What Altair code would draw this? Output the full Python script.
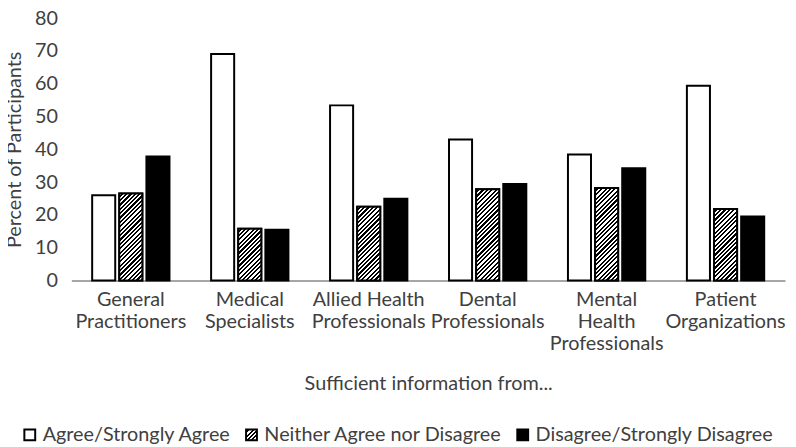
import altair as alt
import pandas as pd

categories = [
    "General\nPractitioners",
    "Medical\nSpecialists",
    "Allied Health\nProfessionals",
    "Dental\nProfessionals",
    "Mental\nHealth\nProfessionals",
    "Patient\nOrganizations",
]
series = ["Agree/Strongly Agree", "Neither Agree nor Disagree", "Disagree/Strongly Disagree"]
agree = [26.0, 69.1, 53.4, 43.0, 38.4, 59.4]
neither = [26.5, 15.8, 22.5, 27.8, 28.2, 21.8]
disagree = [37.8, 15.5, 24.9, 29.4, 34.2, 19.5]

rows = []
for i, c in enumerate(categories):
    for s, vals in zip(series, [agree, neither, disagree]):
        rows.append({"cat": c, "series": s, "value": vals[i]})
df = pd.DataFrame(rows)

FONT = "Lato"
FS = 20
TXT = "#404040"
W, H = 721, 265
YMAX = 80
# bar geometry (from scale paddings) used only to style the hatch pattern
step = W / 6.0
band = step * 0.65
barw = band / (3 - 0.15) * 0.85
px_per_unit = H / YMAX
period = 4.4


def hatch_stops(n):
    stops = []
    for j in range(n):
        a = j / n
        m = (j + 0.5) / n
        b = (j + 1) / n
        stops += [(a, "white"), (m, "white"), (m, "black"), (b, "black")]
    return stops


def hatch(k, w):
    n = max(1, int(round(w * (1 + k * k) / period)))
    stops = [{"offset": o, "color": c} for o, c in hatch_stops(n)]
    return alt.Gradient(gradient="linear", x1=0, y1=0, x2=1, y2=k, stops=stops)


# legend symbol hatch (square, k = 1)
sym_w = 11
n_sym = max(1, int(round(sym_w * 2 / period)))
stops_expr = ", ".join("{offset: %.4f, color: '%s'}" % (o, c) for o, c in hatch_stops(n_sym))
grad_expr = "{gradient: 'linear', x1: 0, y1: 0, x2: 1, y2: 1, stops: [" + stops_expr + "]}"

xenc = alt.X(
    "cat:N",
    sort=categories,
    scale=alt.Scale(domain=categories, paddingInner=0.35, paddingOuter=0.175),
    axis=alt.Axis(
        title="Sufficient information from...",
        labelExpr="split(datum.label, '\\n')",
        labelAngle=0,
        labelFontSize=FS,
        labelLineHeight=22.5,
        labelPadding=9,
        labelColor=TXT,
        labelFont=FONT,
        labelLimit=200,
        ticks=False,
        domainColor="#a6a6a6",
        domainWidth=2,
        titleFontSize=FS,
        titleFont=FONT,
        titleColor=TXT,
        titleFontWeight="normal",
        titlePadding=20,
    ),
)
xoff = alt.XOffset(
    "series:N",
    sort=series,
    scale=alt.Scale(domain=series, paddingInner=0.15, paddingOuter=0),
)
yenc = alt.Y(
    "value:Q",
    scale=alt.Scale(domain=[0, YMAX], nice=False),
    axis=alt.Axis(
        title="Percent of Participants",
        values=list(range(0, 81, 10)),
        grid=False,
        domain=False,
        ticks=False,
        labelFontSize=FS,
        labelFont=FONT,
        labelColor=TXT,
        labelPadding=14,
        titleFontSize=FS,
        titleFont=FONT,
        titleColor=TXT,
        titleFontWeight="normal",
        titlePadding=10,
    ),
)

base = alt.Chart(df).mark_bar(stroke="black", strokeWidth=2).encode(
    x=xenc,
    xOffset=xoff,
    y=yenc,
    color=alt.Color(
        "series:N",
        sort=series,
        scale=alt.Scale(domain=series, range=["white", alt.ExprRef(expr=grad_expr), "black"]),
        legend=alt.Legend(
            title=None,
            orient="none",
            direction="horizontal",
            legendX=-52,
            legendY=411,
            symbolType="square",
            symbolSize=120,
            symbolStrokeColor="black",
            symbolStrokeWidth=2,
            symbolOpacity=1,
            labelFontSize=FS,
            labelFont=FONT,
            labelColor=TXT,
            labelOffset=3,
            columnPadding=10,
            labelLimit=400,
        ),
    ),
)

layers = [base]
for i, c in enumerate(categories):
    k = neither[i] * px_per_unit / barw
    layers.append(
        alt.Chart(df)
        .transform_filter(
            (alt.datum.cat == c) & (alt.datum.series == series[1])
        )
        .mark_bar(fill=hatch(k, barw), stroke="black", strokeWidth=2)
        .encode(x=xenc, xOffset=xoff, y=yenc)
    )

chart = (
    alt.layer(*layers)
    .properties(
        width=W,
        height=H,
        autosize=alt.AutoSizeParams(type="none"),
        padding={"left": 64, "top": 8, "right": 3, "bottom": 166},
    )
    .configure_view(stroke=None)
)

chart.save("out.html", embed_options={"renderer": "svg", "actions": False})
